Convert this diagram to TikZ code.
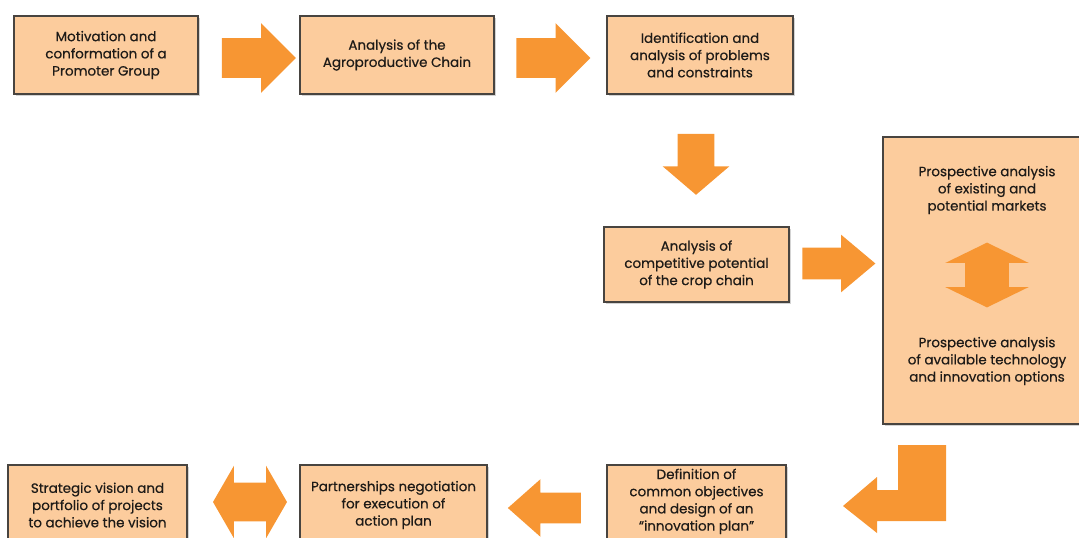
\documentclass[tikz,border=0pt]{standalone}
\usepackage{fontspec}
\setmainfont{Poppins}
\newfontfamily\boxfont{Poppins}[FakeBold=0.5, Ligatures=TeX]
\usepackage{tikz}
\usetikzlibrary{positioning, shapes.arrows, shadows, calc}

\definecolor{boxfill}{RGB}{252,204,157}
\definecolor{boxline}{RGB}{72,68,64}
\definecolor{arrowfill}{RGB}{247,150,51}
\definecolor{boxtext}{RGB}{30,27,24}

\tikzset{
    stepbox/.style={draw=boxline, line width=1.1pt, fill=boxfill, align=center,
        text=boxtext, font=\boxfont\fontsize{10.1}{12.9}\selectfont, inner sep=1pt,
        drop shadow={shadow xshift=1.8pt, shadow yshift=-1.8pt, opacity=0.35}},
    steptext/.style={align=center, text=boxtext, font=\boxfont\fontsize{10.1}{12.9}\selectfont},
    blockarrow/.style={single arrow, fill=arrowfill, draw=none,
        single arrow head indent=0pt},
    twoarrow/.style={double arrow, fill=arrowfill, draw=none,
        double arrow head indent=0pt},
}

\begin{document}
\begin{tikzpicture}[x=0.75pt, y=-0.75pt]
    \useasboundingbox (0,0) rectangle (1079,537);

    % boxes
    \node[stepbox, minimum width=138pt, minimum height=58.5pt] (motiv) at (106,55)
        {Motivation and\\conformation of a\\Promoter Group};
    \node[stepbox, minimum width=145.5pt, minimum height=58.5pt] (agro) at (397,55)
        {Analysis of the\\Agroproductive Chain};
    \node[stepbox, minimum width=139.5pt, minimum height=58.5pt] (ident) at (700,55)
        {Identification and\\analysis of problems\\and constraints};
    \node[stepbox, minimum width=138.75pt, minimum height=56.25pt] (compet) at (696.5,264.5)
        {Analysis of\\competitive potential\\of the crop chain};
    \node[stepbox, minimum width=156pt, minimum height=215.25pt] (prosp) at (987,280.5) {};
    \node[stepbox, minimum width=134.25pt, minimum height=60pt, text depth=8pt] (defin) at (696.5,505)
        {Definition of\\common objectives\\and design of an\\“innovation plan”};
    \node[stepbox, minimum width=140.25pt, minimum height=60pt] (partn) at (393.5,505)
        {Partnerships negotiation\\for execution of\\action plan};
    \node[stepbox, minimum width=134.25pt, minimum height=60pt] (strat) at (97.5,505)
        {Strategic vision and\\portfolio of projects\\to achieve the vision};

    % texts in the big box
    \node[steptext] (markets) at (987,190)
        {Prospective analysis\\of existing and\\potential markets};
    \node[steptext] (techno) at (987,361)
        {Prospective analysis\\of available technology\\and innovation options};

    % arrows between the boxes
    \node[blockarrow, inner sep=14.625pt, single arrow head extend=11.25pt,
        minimum height=55.5pt] (a12) at ($(motiv.east)!0.5!(agro.west)+(0,3)$) {};
    \node[blockarrow, inner sep=14.625pt, single arrow head extend=11.25pt,
        minimum height=55.5pt] (a23) at ($(agro.east)!0.5!(ident.west)+(-7,3)$) {};
    \node[blockarrow, inner sep=13.5pt, single arrow head extend=11.25pt,
        single arrow tip angle=99, minimum height=45.75pt,
        shape border rotate=270] (a34) at (696,156.5) {};
    \node[blockarrow, inner sep=11.625pt, single arrow head extend=9.75pt,
        single arrow tip angle=80, minimum height=54.75pt] (a45) at (829.5,263.5) {};
    \node[twoarrow, inner sep=16.125pt, double arrow head extend=15pt,
        double arrow tip angle=128, minimum height=48pt,
        shape border rotate=90] (a55) at ($(markets)!0.5!(techno)+(0,-0.5)$) {};
    \node[blockarrow, inner sep=11.25pt, single arrow head extend=10.125pt,
        single arrow tip angle=83, minimum height=54.75pt,
        shape border rotate=180] (a67) at (553,508) {};
    \node[twoarrow, inner sep=14.25pt, double arrow head extend=12.75pt,
        double arrow tip angle=120, minimum height=55.5pt] (a78) at (250,502) {};

    % bent arrow from the big box down to the definition box
    \fill[arrowfill] (898,445) -- (946,445) -- (946,521) -- (877,521) -- (877,533)
        -- (843,506) -- (877,477) -- (877,490) -- (898,490) -- cycle;
\end{tikzpicture}
\end{document}
